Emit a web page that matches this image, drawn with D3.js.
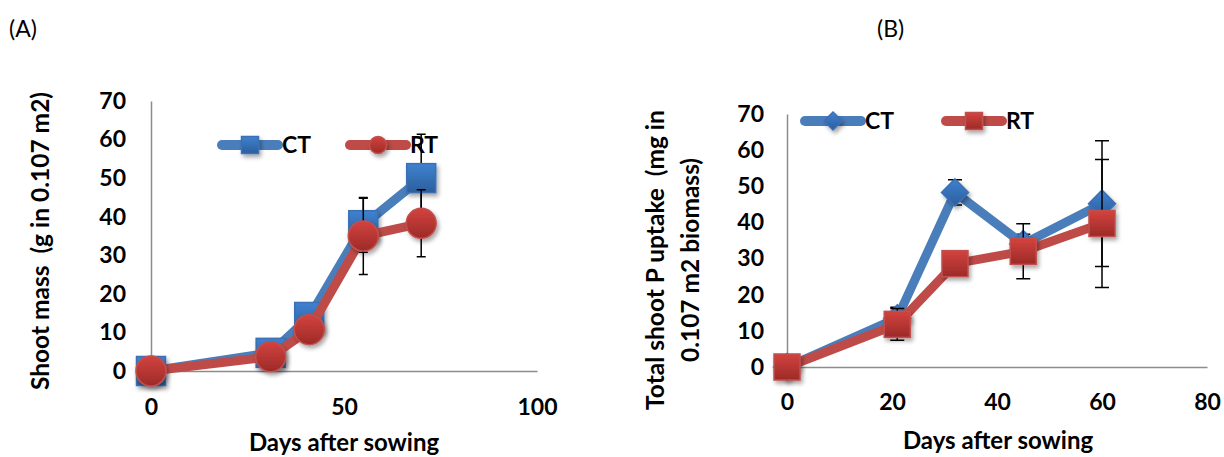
<!DOCTYPE html>
<meta charset="utf-8" />
<style>
  body { margin: 0; background: #fff; }
  text { font-family: Lato, "Open Sans", sans-serif; white-space: pre; }
  .tick text { font-size: 23px; font-weight: bold; fill: #000; }
  .axis path { stroke: #8c8c8c; stroke-width: 1.5; fill: none; }
  .title { font-size: 24px; font-weight: bold; }
  .ylab { font-size: 24.5px; font-weight: bold; }
  .panel { font-size: 23px; }
  .legend { font-size: 23px; font-weight: bold; }
  .err { stroke: #000; stroke-width: 1.5; fill: none; }
</style>
<body>
<script src="https://cdn.jsdelivr.net/npm/d3@7"></script>
<script>
// panel A: shoot mass
var daysA = [0, 31, 41, 55, 70];
var ctA = [0, 4.7, 14, 37.8, 50];
var rtA = [0, 3.7, 10.7, 35, 38.3];
var ctErrA = [0, 0, 0, 7, 11.4];
var rtErrA = [0, 0, 0, 10, 8.7];
var xTicksA = [0, 50, 100];

// panel B: total shoot P uptake
var daysB = [0, 21, 32, 45, 60];
var ctB = [0, 13.5, 48.3, 34, 45.2];
var rtB = [0, 11.8, 28.6, 32, 39.7];
var ctErrB = [0, 3, 3.5, 2.7, 17.4];
var rtErrB = [0, 4.4, 1.5, 7.6, 17.7];
var xTicksB = [0, 20, 40, 60, 80];

var yTicks = [0, 10, 20, 30, 40, 50, 60, 70];
var seriesNames = ["CT", "RT"];

var svg = d3.select("body").append("svg")
  .attr("width", 1224).attr("height", 457);

var defs = svg.append("defs");
function grad(id, c1, c2) {
  var g = defs.append("linearGradient").attr("id", id)
    .attr("x1", 0).attr("y1", 0).attr("x2", 0).attr("y2", 1);
  g.append("stop").attr("offset", "0%").attr("stop-color", c1);
  g.append("stop").attr("offset", "100%").attr("stop-color", c2);
}
grad("gBlue", "#3f82d0", "#2c5e9c");
grad("gRed", "#d3433f", "#9c2a27");
var f = defs.append("filter").attr("id", "shadow")
  .attr("x", "-50%").attr("y", "-50%").attr("width", "200%").attr("height", "200%");
f.append("feDropShadow").attr("dx", 2).attr("dy", 3).attr("stdDeviation", 2)
  .attr("flood-color", "#000").attr("flood-opacity", 0.35);

var colors = { CT: { line: "#4a7ebb", fill: "url(#gBlue)", edge: "#3a6fb5" },
               RT: { line: "#be4b48", fill: "url(#gRed)", edge: "#c0504d" } };

function marker(g, shape, cx, cy, size, c) {
  var m;
  if (shape == "circle") {
    m = g.append("circle").attr("cx", cx).attr("cy", cy).attr("r", size / 2);
  } else if (shape == "square") {
    m = g.append("rect").attr("x", cx - size / 2).attr("y", cy - size / 2)
      .attr("width", size).attr("height", size);
  } else {
    var h = size / 2;
    m = g.append("path").attr("d", "M" + cx + "," + (cy - h) + "L" + (cx + h) + "," + cy +
      "L" + cx + "," + (cy + h) + "L" + (cx - h) + "," + cy + "Z");
  }
  m.attr("fill", c.fill).attr("stroke", c.edge).attr("stroke-width", 1.5)
    .attr("filter", "url(#shadow)");
}

function drawPanel(cfg) {
  var x = d3.scaleLinear().domain(cfg.xDomain).range(cfg.xRange);
  var y = d3.scaleLinear().domain([0, 70]).range(cfg.yRange);
  var g = svg.append("g");

  g.append("g").attr("class", "axis")
    .attr("transform", "translate(0," + y(0) + ")")
    .call(d3.axisBottom(x).tickValues(cfg.xTicks).tickSize(0).tickPadding(cfg.xPad));
  g.append("g").attr("class", "axis")
    .attr("transform", "translate(" + x(0) + ",0)")
    .call(d3.axisLeft(y).tickValues(yTicks).tickSize(0).tickPadding(cfg.yPad));

  cfg.series.forEach(function (s) {
    var c = colors[s.name];
    var pts = cfg.days.map(function (d, i) { return { x: d, y: s.values[i], e: s.err[i] }; });
    // error bars
    pts.filter(function (p) { return p.e > 0; }).forEach(function (p) {
      var px = x(p.x), w = cfg.cap / 2;
      g.append("path").attr("class", "err")
        .attr("d", "M" + px + "," + y(p.y + p.e) + "V" + y(p.y - p.e) +
          "M" + (px - w) + "," + y(p.y + p.e) + "h" + (2 * w) +
          "M" + (px - w) + "," + y(p.y - p.e) + "h" + (2 * w));
    });
    g.append("path").datum(pts)
      .attr("fill", "none").attr("stroke", c.line).attr("stroke-width", 9)
      .attr("stroke-linejoin", "round")
      .attr("d", d3.line().x(function (p) { return x(p.x); }).y(function (p) { return y(p.y); }));
    pts.forEach(function (p) { marker(g, s.shape, x(p.x), y(p.y), s.size, c); });

    // legend entry
    var lx = s.legendX, ly = cfg.legendY;
    g.append("line").attr("x1", lx).attr("x2", lx + 56).attr("y1", ly).attr("y2", ly)
      .attr("stroke", c.line).attr("stroke-width", 10).attr("stroke-linecap", "round");
    marker(g, s.shape, lx + 28, ly, s.legendSize, c);
    g.append("text").attr("class", "legend").attr("x", lx + 60).attr("y", ly + 8)
      .text(s.name);
  });

  g.append("text").attr("class", "title")
    .attr("x", cfg.titleX).attr("y", cfg.titleY).attr("text-anchor", "middle")
    .text("Days after sowing");
  var yl = g.append("text").attr("class", "ylab").attr("text-anchor", "middle")
    .attr("transform", "translate(" + cfg.yLabelX + "," + cfg.yLabelY + ") rotate(-90)");
  cfg.yLabel.forEach(function (t, i) {
    yl.append("tspan").attr("x", 0).attr("dy", i == 0 ? 0 : 35).text(t);
  });
  g.append("text").attr("class", "panel").attr("x", cfg.panelX).attr("y", 37).text(cfg.panel);
}

drawPanel({
  panel: "(A)", panelX: 9,
  xDomain: [0, 100], xRange: [151, 537], yRange: [371, 101],
  xTicks: xTicksA, xPad: 28, yPad: 25, cap: 9,
  days: daysA, legendY: 145,
  series: [
    { name: seriesNames[0], values: ctA, err: ctErrA, shape: "square", size: 29, legendSize: 17, legendX: 222 },
    { name: seriesNames[1], values: rtA, err: rtErrA, shape: "circle", size: 30, legendSize: 17, legendX: 350 }
  ],
  titleX: 344, titleY: 451,
  yLabel: ["Shoot mass  (g in 0.107 m2)"], yLabelX: 49, yLabelY: 241
});

drawPanel({
  panel: "(B)", panelX: 877,
  xDomain: [0, 80], xRange: [787, 1207], yRange: [367, 114],
  xTicks: xTicksB, xPad: 27, yPad: 23, cap: 14,
  days: daysB, legendY: 121,
  series: [
    { name: seriesNames[0], values: ctB, err: ctErrB, shape: "diamond", size: 27, legendSize: 18, legendX: 805 },
    { name: seriesNames[1], values: rtB, err: rtErrB, shape: "square", size: 26, legendSize: 17, legendX: 946 }
  ],
  titleX: 998, titleY: 449,
  yLabel: ["Total shoot P uptake  (mg in", "0.107 m2 biomass)"], yLabelX: 664, yLabelY: 260
});
</script>
</body>
